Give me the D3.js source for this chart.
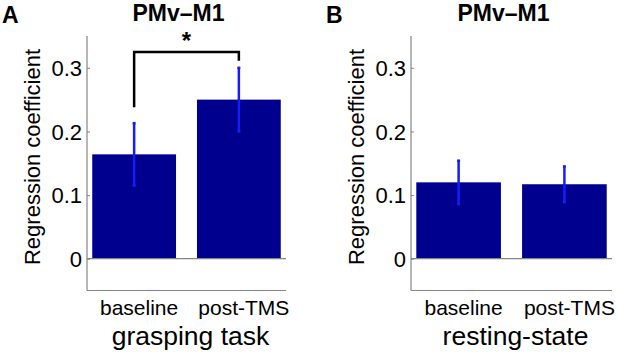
<!DOCTYPE html>
<html lang="en">
<head>
<meta charset="utf-8">
<script src="https://d3js.org/d3.v7.min.js"></script>
<style>
  body { margin: 0; background: #fff; }
  text { font-family: Arial, "Liberation Sans", sans-serif; fill: #000; }
</style>
</head>
<body>
<svg id="chart" width="617" height="356"></svg>
<script>
// data
const categories = ["baseline", "post-TMS"];
const yTicks = [0, 0.1, 0.2, 0.3];
const graspMean = [0.164, 0.250];
const graspErr = [0.049, 0.050];
const restMean = [0.120, 0.117];
const restErr = [0.034, 0.028];
// significance bracket: left foot, top, right foot (y values)
const sigBracket = [0.238, 0.325, 0.311];

const panels = [
  {letter: "A", title: "PMv\u2013M1", group: "grasping task", mean: graspMean, err: graspErr, left: 87, right: 286, sig: true},
  {letter: "B", title: "PMv\u2013M1", group: "resting-state", mean: restMean, err: restErr, left: 411, right: 612, sig: false}
];

const svg = d3.select("#chart");
const plotTop = 36, plotBottom = 290.5;
const axisCol = "#858585";

const y = d3.scaleLinear().domain([-0.05, 0.35]).range([plotBottom, plotTop]);

panels.forEach(function(p) {
  const x = d3.scaleLinear().domain([0.55, 2.45]).range([p.left, p.right]);
  const g = svg.append("g");
  const data = categories.map((c, i) => ({cat: c, pos: i + 1, v: p.mean[i], e: p.err[i]}));

  // bars
  g.selectAll(".bar")
    .data(data)
    .join("rect")
      .attr("class", "bar")
      .attr("x", d => x(d.pos - 0.4))
      .attr("width", d => x(d.pos + 0.4) - x(d.pos - 0.4))
      .attr("y", d => y(d.v))
      .attr("height", d => y(0) - y(d.v))
      .attr("fill", "#00008f");

  // baseline at zero
  g.append("line")
    .attr("x1", p.left).attr("x2", p.right)
    .attr("y1", y(0)).attr("y2", y(0))
    .attr("stroke", axisCol).attr("stroke-width", 1.2);

  // error bars
  const eb = g.selectAll(".err")
    .data(data)
    .join("g")
      .attr("class", "err")
      .attr("stroke", "#1a1aff")
      .attr("stroke-width", 2.5);
  eb.append("line")
    .attr("x1", d => x(d.pos)).attr("x2", d => x(d.pos))
    .attr("y1", d => y(d.v - d.e)).attr("y2", d => y(d.v + d.e));
  eb.append("line")
    .attr("x1", d => x(d.pos) - 1.5).attr("x2", d => x(d.pos) + 1.5)
    .attr("y1", d => y(d.v + d.e)).attr("y2", d => y(d.v + d.e));
  eb.append("line")
    .attr("x1", d => x(d.pos) - 1.5).attr("x2", d => x(d.pos) + 1.5)
    .attr("y1", d => y(d.v - d.e)).attr("y2", d => y(d.v - d.e));

  // axes lines
  g.append("line")
    .attr("x1", p.left).attr("x2", p.left)
    .attr("y1", plotTop).attr("y2", plotBottom)
    .attr("stroke", axisCol).attr("stroke-width", 1.2);
  g.append("line")
    .attr("x1", p.left).attr("x2", p.right)
    .attr("y1", plotBottom).attr("y2", plotBottom)
    .attr("stroke", axisCol).attr("stroke-width", 1.2);

  // y ticks
  const yAxis = g.append("g")
    .attr("transform", `translate(${p.left},0)`)
    .call(d3.axisRight(y).tickValues(yTicks).tickSize(3).tickFormat(d3.format("")));
  yAxis.select(".domain").remove();
  yAxis.selectAll(".tick line").attr("stroke", axisCol);
  yAxis.selectAll(".tick text")
    .attr("x", -5)
    .attr("dy", "0.36em")
    .style("text-anchor", "end")
    .style("font-size", "22px")
    .style("font-family", "Arial, 'Liberation Sans', sans-serif");

  // y label
  g.append("text")
    .attr("transform", `translate(${p.left - 47},${(plotTop + 264) / 2 + 7}) rotate(-90)`)
    .attr("text-anchor", "middle")
    .style("font-size", "22px")
    .text("Regression coefficient");

  // category labels
  g.selectAll(".cat")
    .data(data)
    .join("text")
      .attr("class", "cat")
      .attr("x", d => x(d.pos) + 5)
      .attr("y", 315)
      .attr("text-anchor", "middle")
      .style("font-size", "21px")
      .text(d => d.cat);

  // group label
  g.append("text")
    .attr("x", (p.left + p.right) / 2 + 4)
    .attr("y", 345)
    .attr("text-anchor", "middle")
    .style("font-size", "26.5px")
    .text(p.group);

  // title
  g.append("text")
    .attr("x", (p.left + p.right) / 2 - 8)
    .attr("y", 21)
    .attr("text-anchor", "middle")
    .style("font-size", "23px")
    .style("font-weight", "bold")
    .text(p.title);

  // panel letter
  g.append("text")
    .attr("x", p.left - 85)
    .attr("y", 22.5)
    .style("font-size", "23px")
    .style("font-weight", "bold")
    .text(p.letter);

  if (p.sig) {
    const pts = [[1, sigBracket[0]], [1, sigBracket[1]], [2, sigBracket[1]], [2, sigBracket[2]]];
    g.append("path")
      .attr("d", d3.line().x(d => x(d[0])).y(d => y(d[1]))(pts))
      .attr("fill", "none")
      .attr("stroke", "#000")
      .attr("stroke-width", 2.5);
    g.append("text")
      .attr("x", x(1.5))
      .attr("y", y(sigBracket[1]) - 3)
      .attr("text-anchor", "middle")
      .style("font-size", "24px")
      .style("font-weight", "bold")
      .text("*");
  }
});
</script>
</body>
</html>
